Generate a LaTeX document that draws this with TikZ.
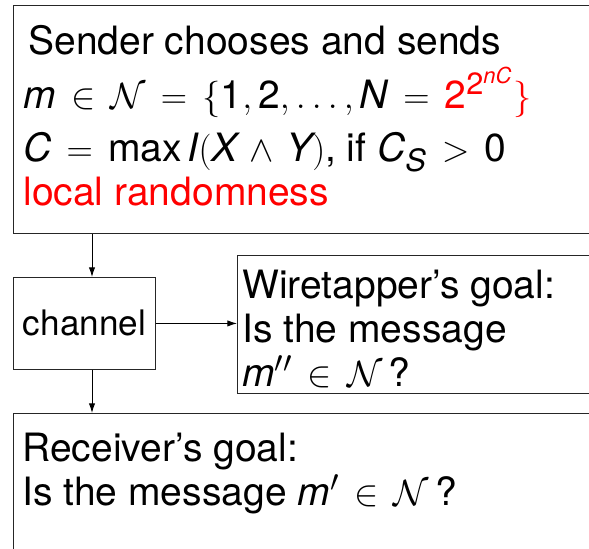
\documentclass[tikz,border=0pt]{standalone}
\usepackage{fontspec}
\setmainfont{TeX Gyre Heros}
\usetikzlibrary{positioning,arrows.meta}

\DeclareMathSizes{22.2}{22.2}{17.5}{12.5}
\newcommand{\vr}[1]{\mathit{#1}}
\newcommand{\dg}[1]{\mathrm{#1}}
\newcommand{\widemath}{\thickmuskip=7.5mu plus 5mu\relax\medmuskip=6mu plus 2mu minus 4mu\relax}

\tikzset{
  blk/.style={draw=black!85, line width=0.5pt, inner sep=0pt, anchor=north west},
  txt/.style={inner sep=0pt, align=left, anchor=base west,
    font=\fontsize{22.2}{25}\selectfont\widemath},
  arr/.style={-{Latex[length=5.5pt,width=3.6pt]}, line width=0.5pt}
}

\begin{document}
\begin{tikzpicture}
    \useasboundingbox (0, 0) rectangle (11.78, 10.96);
    \clip (0, 0) rectangle (11.78, 10.96);

    \coordinate (SND) at (0.26, 10.86);
    \coordinate (CHN) at (0.26, 5.42);
    \coordinate (WIR) at (4.74, 5.86);
    \coordinate (RCV) at (0.26, 2.70);
    \coordinate (AX) at (1.84, 0);

    % boxes
    \node [blk, minimum width=13cm, minimum height=4.56cm] (sender) at (SND) {};
    \node [blk, minimum width=2.84cm, minimum height=1.84cm, font=\fontsize{20}{24}\selectfont] (chan) at (CHN) {channel};
    \node [blk, minimum width=9cm, minimum height=2.76cm] (wire) at (WIR) {};
    \node [blk, minimum width=13cm, minimum height=3.5cm] (recv) at (RCV) {};

    % texts (anchored at the baseline of their last line)
    \node [txt] (sendtxt) at (0.46, 6.86)
    {\hspace*{0.1cm}Sender chooses and sends\\[5.6pt]
     $\vr{m}\in\mathcal{N}=\{\dg{1},\dg{2},\ldots,\vr{N}=\textcolor{red}{\dg{2}^{\dg{2}^{\vr{nC}}}\}}$\\[5.1pt]
     $\vr{C}=\max\vr{I}(\vr{X}\wedge\vr{Y})$, if $\vr{C}_{\vr{S}}>\dg{0}$\\
     \textcolor{red}{local randomness}};
    \node [txt] (wiretxt) at (4.84, 3.24)
    {Wiretapper's goal:\\
     Is the message\\
     $\vr{m}''\in\mathcal{N}\,$?};
    \node [txt] (recvtxt) at (0.44, 0.86)
    {Receiver's goal:\\
     Is the message $\vr{m}'\in\mathcal{N}\,$?};

    % connectors
    \draw [arr] (sender.south -| AX) to (chan.north -| AX);
    \draw [arr] (chan.east) to (chan.east -| wire.west);
    \draw [arr] (chan.south -| AX) to (recv.north -| AX);
\end{tikzpicture}
\end{document}
